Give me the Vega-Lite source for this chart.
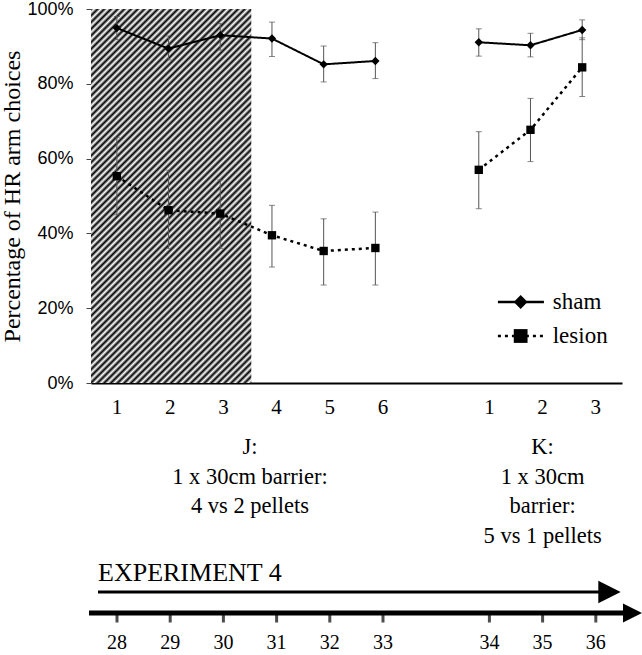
{
  "$schema": "https://vega.github.io/schema/vega-lite/v6.json",
  "width": 531,
  "height": 374,
  "padding": {"left": 0, "top": 0, "right": 0, "bottom": 0},
  "background": "white",
  "config": {"view": {"stroke": null}, "font": "Liberation Serif"},
  "datasets": {
    "obs": [
      {"series": "sham", "block": "J", "session": 1, "mean": 94.9, "lo": 91.8, "hi": 98.0},
      {"series": "sham", "block": "J", "session": 2, "mean": 89.4, "lo": 86.4, "hi": 92.8},
      {"series": "sham", "block": "J", "session": 3, "mean": 93.0, "lo": 89.0, "hi": 96.1},
      {"series": "sham", "block": "J", "session": 4, "mean": 92.1, "lo": 87.3, "hi": 96.5},
      {"series": "sham", "block": "J", "session": 5, "mean": 85.2, "lo": 80.5, "hi": 90.1},
      {"series": "sham", "block": "J", "session": 6, "mean": 86.1, "lo": 81.4, "hi": 91.0},
      {"series": "sham", "block": "K", "session": 8, "mean": 91.1, "lo": 87.4, "hi": 94.7},
      {"series": "sham", "block": "K", "session": 9, "mean": 90.3, "lo": 87.2, "hi": 93.5},
      {"series": "sham", "block": "K", "session": 10, "mean": 94.4, "lo": 91.8, "hi": 97.1},
      {"series": "lesion", "block": "J", "session": 1, "mean": 55.3, "lo": 45.0, "hi": 65.6},
      {"series": "lesion", "block": "J", "session": 2, "mean": 46.2, "lo": 36.0, "hi": 56.9},
      {"series": "lesion", "block": "J", "session": 3, "mean": 45.3, "lo": 36.0, "hi": 54.3},
      {"series": "lesion", "block": "J", "session": 4, "mean": 39.5, "lo": 31.0, "hi": 47.5},
      {"series": "lesion", "block": "J", "session": 5, "mean": 35.3, "lo": 26.2, "hi": 43.9},
      {"series": "lesion", "block": "J", "session": 6, "mean": 36.1, "lo": 26.2, "hi": 45.7},
      {"series": "lesion", "block": "K", "session": 8, "mean": 57.0, "lo": 46.6, "hi": 67.2},
      {"series": "lesion", "block": "K", "session": 9, "mean": 67.7, "lo": 59.2, "hi": 76.1},
      {"series": "lesion", "block": "K", "session": 10, "mean": 84.4, "lo": 76.6, "hi": 92.3}
    ],
    "sessions": [
      {"session": 1, "trial": "1", "day": "28"},
      {"session": 2, "trial": "2", "day": "29"},
      {"session": 3, "trial": "3", "day": "30"},
      {"session": 4, "trial": "4", "day": "31"},
      {"session": 5, "trial": "5", "day": "32"},
      {"session": 6, "trial": "6", "day": "33"},
      {"session": 8, "trial": "1", "day": "34"},
      {"session": 9, "trial": "2", "day": "35"},
      {"session": 10, "trial": "3", "day": "36"}
    ],
    "blocks": [
      {"block": "J", "center": 3.5, "line": 1, "text": "J:"},
      {"block": "J", "center": 3.5, "line": 2, "text": "1 x 30cm barrier:"},
      {"block": "J", "center": 3.5, "line": 3, "text": "4 vs 2 pellets"},
      {"block": "K", "center": 9, "line": 1, "text": "K:"},
      {"block": "K", "center": 9, "line": 2, "text": "1 x 30cm"},
      {"block": "K", "center": 9, "line": 3, "text": "barrier:"},
      {"block": "K", "center": 9, "line": 4, "text": "5 vs 1 pellets"}
    ],
    "arrows": [
      {"arrow": "experiment", "label": "EXPERIMENT 4", "start": 0.643, "end": 10.257},
      {"arrow": "days", "label": "", "start": 0.474, "end": 10.69}
    ],
    "legend": [
      {"series": "sham"},
      {"series": "lesion"}
    ]
  },
  "resolve": {"scale": {"x": "independent", "y": "independent"}},
  "layer": [
    {
      "layer": [
        {
          "data": {"values": [{"phase": "barrier", "from": 0.5, "to": 3.6}]},
          "mark": {
            "type": "rect",
            "fill": {
              "gradient": "linear", "x1": 0, "y1": 0, "x2": 0.5163, "y2": 1.2069,
              "stops": [
                {"offset": 0, "color": "#000"}, {"offset": 0.00625, "color": "#fff"}, {"offset": 0.0125, "color": "#000"}, {"offset": 0.01875, "color": "#fff"},
                {"offset": 0.025, "color": "#000"}, {"offset": 0.03125, "color": "#fff"}, {"offset": 0.0375, "color": "#000"}, {"offset": 0.04375, "color": "#fff"},
                {"offset": 0.05, "color": "#000"}, {"offset": 0.05625, "color": "#fff"}, {"offset": 0.0625, "color": "#000"}, {"offset": 0.06875, "color": "#fff"},
                {"offset": 0.075, "color": "#000"}, {"offset": 0.08125, "color": "#fff"}, {"offset": 0.0875, "color": "#000"}, {"offset": 0.09375, "color": "#fff"},
                {"offset": 0.1, "color": "#000"}, {"offset": 0.10625, "color": "#fff"}, {"offset": 0.1125, "color": "#000"}, {"offset": 0.11875, "color": "#fff"},
                {"offset": 0.125, "color": "#000"}, {"offset": 0.13125, "color": "#fff"}, {"offset": 0.1375, "color": "#000"}, {"offset": 0.14375, "color": "#fff"},
                {"offset": 0.15, "color": "#000"}, {"offset": 0.15625, "color": "#fff"}, {"offset": 0.1625, "color": "#000"}, {"offset": 0.16875, "color": "#fff"},
                {"offset": 0.175, "color": "#000"}, {"offset": 0.18125, "color": "#fff"}, {"offset": 0.1875, "color": "#000"}, {"offset": 0.19375, "color": "#fff"},
                {"offset": 0.2, "color": "#000"}, {"offset": 0.20625, "color": "#fff"}, {"offset": 0.2125, "color": "#000"}, {"offset": 0.21875, "color": "#fff"},
                {"offset": 0.225, "color": "#000"}, {"offset": 0.23125, "color": "#fff"}, {"offset": 0.2375, "color": "#000"}, {"offset": 0.24375, "color": "#fff"},
                {"offset": 0.25, "color": "#000"}, {"offset": 0.25625, "color": "#fff"}, {"offset": 0.2625, "color": "#000"}, {"offset": 0.26875, "color": "#fff"},
                {"offset": 0.275, "color": "#000"}, {"offset": 0.28125, "color": "#fff"}, {"offset": 0.2875, "color": "#000"}, {"offset": 0.29375, "color": "#fff"},
                {"offset": 0.3, "color": "#000"}, {"offset": 0.30625, "color": "#fff"}, {"offset": 0.3125, "color": "#000"}, {"offset": 0.31875, "color": "#fff"},
                {"offset": 0.325, "color": "#000"}, {"offset": 0.33125, "color": "#fff"}, {"offset": 0.3375, "color": "#000"}, {"offset": 0.34375, "color": "#fff"},
                {"offset": 0.35, "color": "#000"}, {"offset": 0.35625, "color": "#fff"}, {"offset": 0.3625, "color": "#000"}, {"offset": 0.36875, "color": "#fff"},
                {"offset": 0.375, "color": "#000"}, {"offset": 0.38125, "color": "#fff"}, {"offset": 0.3875, "color": "#000"}, {"offset": 0.39375, "color": "#fff"},
                {"offset": 0.4, "color": "#000"}, {"offset": 0.40625, "color": "#fff"}, {"offset": 0.4125, "color": "#000"}, {"offset": 0.41875, "color": "#fff"},
                {"offset": 0.425, "color": "#000"}, {"offset": 0.43125, "color": "#fff"}, {"offset": 0.4375, "color": "#000"}, {"offset": 0.44375, "color": "#fff"},
                {"offset": 0.45, "color": "#000"}, {"offset": 0.45625, "color": "#fff"}, {"offset": 0.4625, "color": "#000"}, {"offset": 0.46875, "color": "#fff"},
                {"offset": 0.475, "color": "#000"}, {"offset": 0.48125, "color": "#fff"}, {"offset": 0.4875, "color": "#000"}, {"offset": 0.49375, "color": "#fff"},
                {"offset": 0.5, "color": "#000"}, {"offset": 0.50625, "color": "#fff"}, {"offset": 0.5125, "color": "#000"}, {"offset": 0.51875, "color": "#fff"},
                {"offset": 0.525, "color": "#000"}, {"offset": 0.53125, "color": "#fff"}, {"offset": 0.5375, "color": "#000"}, {"offset": 0.54375, "color": "#fff"},
                {"offset": 0.55, "color": "#000"}, {"offset": 0.55625, "color": "#fff"}, {"offset": 0.5625, "color": "#000"}, {"offset": 0.56875, "color": "#fff"},
                {"offset": 0.575, "color": "#000"}, {"offset": 0.58125, "color": "#fff"}, {"offset": 0.5875, "color": "#000"}, {"offset": 0.59375, "color": "#fff"},
                {"offset": 0.6, "color": "#000"}, {"offset": 0.60625, "color": "#fff"}, {"offset": 0.6125, "color": "#000"}, {"offset": 0.61875, "color": "#fff"},
                {"offset": 0.625, "color": "#000"}, {"offset": 0.63125, "color": "#fff"}, {"offset": 0.6375, "color": "#000"}, {"offset": 0.64375, "color": "#fff"},
                {"offset": 0.65, "color": "#000"}, {"offset": 0.65625, "color": "#fff"}, {"offset": 0.6625, "color": "#000"}, {"offset": 0.66875, "color": "#fff"},
                {"offset": 0.675, "color": "#000"}, {"offset": 0.68125, "color": "#fff"}, {"offset": 0.6875, "color": "#000"}, {"offset": 0.69375, "color": "#fff"},
                {"offset": 0.7, "color": "#000"}, {"offset": 0.70625, "color": "#fff"}, {"offset": 0.7125, "color": "#000"}, {"offset": 0.71875, "color": "#fff"},
                {"offset": 0.725, "color": "#000"}, {"offset": 0.73125, "color": "#fff"}, {"offset": 0.7375, "color": "#000"}, {"offset": 0.74375, "color": "#fff"},
                {"offset": 0.75, "color": "#000"}, {"offset": 0.75625, "color": "#fff"}, {"offset": 0.7625, "color": "#000"}, {"offset": 0.76875, "color": "#fff"},
                {"offset": 0.775, "color": "#000"}, {"offset": 0.78125, "color": "#fff"}, {"offset": 0.7875, "color": "#000"}, {"offset": 0.79375, "color": "#fff"},
                {"offset": 0.8, "color": "#000"}, {"offset": 0.80625, "color": "#fff"}, {"offset": 0.8125, "color": "#000"}, {"offset": 0.81875, "color": "#fff"},
                {"offset": 0.825, "color": "#000"}, {"offset": 0.83125, "color": "#fff"}, {"offset": 0.8375, "color": "#000"}, {"offset": 0.84375, "color": "#fff"},
                {"offset": 0.85, "color": "#000"}, {"offset": 0.85625, "color": "#fff"}, {"offset": 0.8625, "color": "#000"}, {"offset": 0.86875, "color": "#fff"},
                {"offset": 0.875, "color": "#000"}, {"offset": 0.88125, "color": "#fff"}, {"offset": 0.8875, "color": "#000"}, {"offset": 0.89375, "color": "#fff"},
                {"offset": 0.9, "color": "#000"}, {"offset": 0.90625, "color": "#fff"}, {"offset": 0.9125, "color": "#000"}, {"offset": 0.91875, "color": "#fff"},
                {"offset": 0.925, "color": "#000"}, {"offset": 0.93125, "color": "#fff"}, {"offset": 0.9375, "color": "#000"}, {"offset": 0.94375, "color": "#fff"},
                {"offset": 0.95, "color": "#000"}, {"offset": 0.95625, "color": "#fff"}, {"offset": 0.9625, "color": "#000"}, {"offset": 0.96875, "color": "#fff"},
                {"offset": 0.975, "color": "#000"}, {"offset": 0.98125, "color": "#fff"}, {"offset": 0.9875, "color": "#000"}, {"offset": 0.99375, "color": "#fff"},
                {"offset": 1, "color": "#000"}
              ]
            }
          },
          "encoding": {
            "x": {
              "field": "from", "type": "quantitative",
              "scale": {"domain": [0.5, 10.77], "nice": false, "zero": false},
              "title": null,
              "axis": {"labels": false, "ticks": false, "grid": false, "domain": true, "domainColor": "black", "domainWidth": 2, "title": null}
            },
            "x2": {"field": "to"},
            "y": {
              "datum": 0, "type": "quantitative",
              "scale": {"domain": [0, 100], "nice": false, "zero": true},
              "title": "Percentage of HR arm choices",
              "axis": {
                "values": [0, 20, 40, 60, 80, 100],
                "labelExpr": "datum.value + '%'",
                "labelFont": "Liberation Sans", "labelFontSize": 18, "labelColor": "black", "labelPadding": 13,
                "tickSize": 5, "tickColor": "#444", "domainColor": "#444", "grid": false,
                "titleFont": "Liberation Serif", "titleFontSize": 24, "titleFontWeight": "normal", "titleColor": "black", "titlePadding": 2
              }
            },
            "y2": {"datum": 100}
          }
        },
        {
          "data": {"name": "obs"},
          "mark": {"type": "rule", "color": "#555", "strokeWidth": 1},
          "encoding": {
            "x": {"field": "session", "type": "quantitative", "title": null},
            "y": {"field": "lo", "type": "quantitative", "title": "Percentage of HR arm choices"},
            "y2": {"field": "hi"}
          }
        },
        {
          "data": {"name": "obs"},
          "mark": {"type": "tick", "orient": "horizontal", "color": "#555", "size": 6, "thickness": 1},
          "encoding": {
            "x": {"field": "session", "type": "quantitative", "title": null},
            "y": {"field": "lo", "type": "quantitative", "title": "Percentage of HR arm choices"}
          }
        },
        {
          "data": {"name": "obs"},
          "mark": {"type": "tick", "orient": "horizontal", "color": "#555", "size": 6, "thickness": 1},
          "encoding": {
            "x": {"field": "session", "type": "quantitative", "title": null},
            "y": {"field": "hi", "type": "quantitative", "title": "Percentage of HR arm choices"}
          }
        },
        {
          "data": {"name": "obs"},
          "mark": {"type": "line", "color": "black"},
          "encoding": {
            "x": {"field": "session", "type": "quantitative", "title": null},
            "y": {"field": "mean", "type": "quantitative", "title": "Percentage of HR arm choices"},
            "detail": [{"field": "series"}, {"field": "block"}],
            "strokeDash": {"field": "series", "type": "nominal", "scale": {"domain": ["sham", "lesion"], "range": [[1, 0], [3, 4]]}, "legend": null},
            "strokeWidth": {"field": "series", "type": "nominal", "scale": {"domain": ["sham", "lesion"], "range": [2, 2.5]}, "legend": null}
          }
        },
        {
          "data": {"name": "obs"},
          "mark": {"type": "point", "filled": true, "color": "black", "opacity": 1, "size": 70},
          "encoding": {
            "x": {"field": "session", "type": "quantitative", "title": null},
            "y": {"field": "mean", "type": "quantitative", "title": "Percentage of HR arm choices"},
            "shape": {"field": "series", "type": "nominal", "scale": {"domain": ["sham", "lesion"], "range": ["diamond", "square"]}, "legend": null}
          }
        }
      ]
    },
    {
      "data": {"name": "legend"},
      "encoding": {
        "y": {"field": "series", "type": "nominal", "scale": {"type": "point", "domain": ["sham", "lesion"], "range": [293, 327], "padding": 0}, "axis": null}
      },
      "layer": [
        {
          "mark": {"type": "rule", "color": "black", "strokeWidth": 2.5},
          "encoding": {
            "x": {"datum": 8.37, "type": "quantitative", "scale": {"domain": [0.5, 10.77], "range": [0, 531], "nice": false, "zero": false}, "axis": null},
            "x2": {"datum": 9.26},
            "strokeDash": {"field": "series", "type": "nominal", "scale": {"domain": ["sham", "lesion"], "range": [[1, 0], [3, 4]]}, "legend": null}
          }
        },
        {
          "mark": {"type": "point", "filled": true, "color": "black", "opacity": 1, "size": 190},
          "encoding": {
            "x": {"datum": 8.81, "type": "quantitative", "scale": {"domain": [0.5, 10.77], "range": [0, 531], "nice": false, "zero": false}, "axis": null},
            "shape": {"field": "series", "type": "nominal", "scale": {"domain": ["sham", "lesion"], "range": ["diamond", "square"]}, "legend": null}
          }
        },
        {
          "mark": {"type": "text", "align": "left", "baseline": "middle", "font": "Liberation Serif", "fontSize": 23, "color": "black"},
          "encoding": {
            "x": {"datum": 9.43, "type": "quantitative", "scale": {"domain": [0.5, 10.77], "range": [0, 531], "nice": false, "zero": false}, "axis": null},
            "text": {"field": "series"}
          }
        }
      ]
    },
    {
      "data": {"name": "blocks"},
      "mark": {"type": "text", "align": "center", "baseline": "middle", "font": "Liberation Serif", "fontSize": 22.5, "color": "black"},
      "encoding": {
        "x": {"field": "center", "type": "quantitative", "scale": {"domain": [0, 11], "range": [-27.2, 558], "nice": false, "zero": false}, "axis": null},
        "y": {"field": "line", "type": "quantitative", "scale": {"domain": [1, 4], "range": [438, 526.5], "nice": false, "zero": false}, "axis": null},
        "text": {"field": "text"}
      }
    },
    {
      "layer": [
        {
          "data": {"name": "sessions"},
          "mark": {"type": "text", "align": "center", "baseline": "middle", "font": "Liberation Serif", "fontSize": 21, "color": "black"},
          "encoding": {
            "x": {"field": "session", "type": "quantitative", "scale": {"domain": [0, 11], "range": [-27.2, 558], "nice": false, "zero": false}, "axis": null},
            "y": {"datum": 25, "type": "quantitative", "scale": {"domain": [0, 300], "range": [374, 674], "nice": false, "zero": false}, "axis": null},
            "text": {"field": "trial"}
          }
        },
        {
          "data": {"name": "arrows"},
          "transform": [{"filter": "datum.arrow == 'experiment'"}],
          "mark": {"type": "text", "align": "left", "baseline": "middle", "font": "Liberation Serif", "fontSize": 26, "color": "black"},
          "encoding": {
            "x": {"field": "start", "type": "quantitative", "scale": {"domain": [0, 11], "range": [-27.2, 558], "nice": false, "zero": false}, "axis": null},
            "y": {"datum": 190, "type": "quantitative", "scale": {"domain": [0, 300], "range": [374, 674], "nice": false, "zero": false}, "axis": null},
            "text": {"field": "label"}
          }
        },
        {
          "data": {"name": "arrows"},
          "transform": [{"filter": "datum.arrow == 'experiment'"}],
          "mark": {"type": "rule", "color": "black", "strokeWidth": 3},
          "encoding": {
            "x": {"field": "start", "type": "quantitative", "scale": {"domain": [0, 11], "range": [-27.2, 558], "nice": false, "zero": false}, "axis": null},
            "x2": {"field": "end"},
            "y": {"datum": 209, "type": "quantitative", "scale": {"domain": [0, 300], "range": [374, 674], "nice": false, "zero": false}, "axis": null}
          }
        },
        {
          "data": {"name": "arrows"},
          "transform": [{"filter": "datum.arrow == 'experiment'"}],
          "mark": {"type": "point", "shape": "M-1,-1L1,0L-1,1Z", "filled": true, "color": "black", "opacity": 1, "strokeWidth": 0, "size": 500},
          "encoding": {
            "x": {"field": "end", "type": "quantitative", "scale": {"domain": [0, 11], "range": [-27.2, 558], "nice": false, "zero": false}, "axis": null},
            "y": {"datum": 209, "type": "quantitative", "scale": {"domain": [0, 300], "range": [374, 674], "nice": false, "zero": false}, "axis": null}
          }
        },
        {
          "data": {"name": "arrows"},
          "transform": [{"filter": "datum.arrow == 'days'"}],
          "mark": {"type": "rule", "color": "black", "strokeWidth": 5},
          "encoding": {
            "x": {"field": "start", "type": "quantitative", "scale": {"domain": [0, 11], "range": [-27.2, 558], "nice": false, "zero": false}, "axis": null},
            "x2": {"field": "end"},
            "y": {"datum": 230, "type": "quantitative", "scale": {"domain": [0, 300], "range": [374, 674], "nice": false, "zero": false}, "axis": null}
          }
        },
        {
          "data": {"name": "arrows"},
          "transform": [{"filter": "datum.arrow == 'days'"}],
          "mark": {"type": "point", "shape": "M-1,-1L1,0L-1,1Z", "filled": true, "color": "black", "opacity": 1, "strokeWidth": 0, "size": 361},
          "encoding": {
            "x": {"field": "end", "type": "quantitative", "scale": {"domain": [0, 11], "range": [-27.2, 558], "nice": false, "zero": false}, "axis": null},
            "y": {"datum": 230, "type": "quantitative", "scale": {"domain": [0, 300], "range": [374, 674], "nice": false, "zero": false}, "axis": null}
          }
        },
        {
          "data": {"name": "sessions"},
          "mark": {"type": "tick", "orient": "vertical", "color": "black", "size": 10, "thickness": 3},
          "encoding": {
            "x": {"field": "session", "type": "quantitative", "scale": {"domain": [0, 11], "range": [-27.2, 558], "nice": false, "zero": false}, "axis": null},
            "y": {"datum": 234.5, "type": "quantitative", "scale": {"domain": [0, 300], "range": [374, 674], "nice": false, "zero": false}, "axis": null}
          }
        },
        {
          "data": {"name": "sessions"},
          "mark": {"type": "text", "align": "center", "baseline": "middle", "font": "Liberation Serif", "fontSize": 20, "color": "black"},
          "encoding": {
            "x": {"field": "session", "type": "quantitative", "scale": {"domain": [0, 11], "range": [-27.2, 558], "nice": false, "zero": false}, "axis": null},
            "y": {"datum": 260, "type": "quantitative", "scale": {"domain": [0, 300], "range": [374, 674], "nice": false, "zero": false}, "axis": null},
            "text": {"field": "day"}
          }
        }
      ]
    }
  ]
}
